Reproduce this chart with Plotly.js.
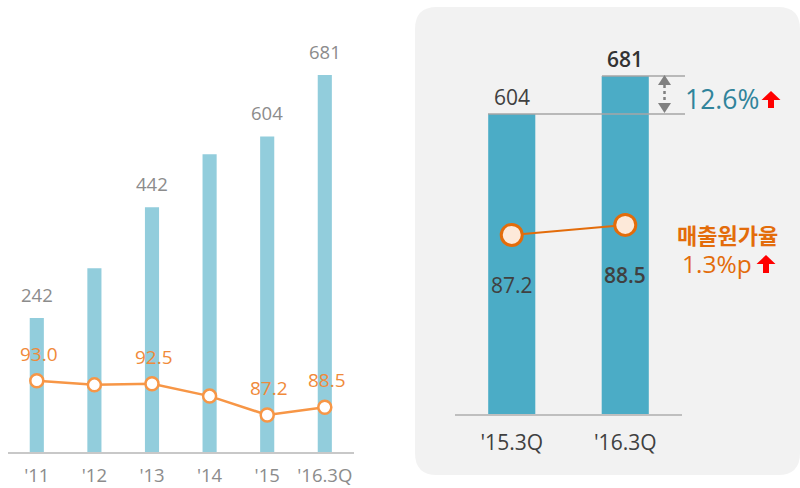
<!DOCTYPE html>
<html><head><meta charset="utf-8">
<script src="https://cdn.plot.ly/plotly-3.0.1.min.js"></script>
<style>html,body{margin:0;padding:0;background:#fff}#chart{width:800px;height:488px}</style>
</head><body><div id="chart"></div>
<script>
// ---- data ----
const yearCats = ["'11", "'12", "'13", "'14", "'15", "'16.3Q"];
const salesValues = [242, 332, 442, 538, 570, 681];
const salesLabels = ["242", "", "442", "", "604", "681"];
const costRatio = [93.0, 92.3, 92.5, 90.4, 87.2, 88.5];
const costLabels = ["93.0", "", "92.5", "", "87.2", "88.5"];
const qCats = ["'15.3Q", "'16.3Q"];
const qSales = [604, 681];
const qRatio = [87.2, 88.5];
const growthText = "12.6%";
const ratioTitle = "매출원가율";
const ratioChange = "1.3%p";

// ---- helpers ----
const W = 800, H = 488;
const px = x => x / W;
const py = y => (H - y) / H;
const FONT = "'Open Sans', 'Noto Sans', sans-serif";
const KFONT = "'Noto Sans CJK KR', 'Open Sans', sans-serif";

function upArrowPath(cx, top, bottom) {
  const hw = 9.5, headH = 9, sw = 3;
  const pts = [[cx, top], [cx + hw, top + headH], [cx + sw, top + headH], [cx + sw, bottom],
               [cx - sw, bottom], [cx - sw, top + headH], [cx - hw, top + headH]];
  return 'M' + pts.map(p => px(p[0]) + ',' + py(p[1])).join('L') + 'Z';
}
function triPath(pts) {
  return 'M' + pts.map(p => px(p[0]) + ',' + py(p[1])).join('L') + 'Z';
}
function roundRect(x0, y0, x1, y1, r) {
  const P = (x, y) => px(x) + ',' + py(y);
  return 'M' + P(x0 + r, y0) + 'L' + P(x1 - r, y0) + 'Q' + P(x1, y0) + ' ' + P(x1, y0 + r) +
    'L' + P(x1, y1 - r) + 'Q' + P(x1, y1) + ' ' + P(x1 - r, y1) +
    'L' + P(x0 + r, y1) + 'Q' + P(x0, y1) + ' ' + P(x0, y1 - r) +
    'L' + P(x0, y0 + r) + 'Q' + P(x0, y0) + ' ' + P(x0 + r, y0) + 'Z';
}

// ---- traces ----
const traces = [
  { type: 'bar', x: yearCats, y: salesValues, xaxis: 'x', yaxis: 'y',
    marker: { color: '#92CDDC' }, width: 0.245, hoverinfo: 'skip' },
  { type: 'scatter', mode: 'lines+markers', x: yearCats, y: costRatio, xaxis: 'x', yaxis: 'y2',
    line: { color: '#F79646', width: 2.5 },
    marker: { size: 13, color: '#FFFFFF', line: { color: '#F79646', width: 2.5 } }, hoverinfo: 'skip' },
  { type: 'bar', x: qCats, y: qSales, xaxis: 'x2', yaxis: 'y3',
    marker: { color: '#4BACC6' }, width: 0.415, hoverinfo: 'skip' },
  { type: 'scatter', mode: 'lines+markers', x: qCats, y: qRatio, xaxis: 'x2', yaxis: 'y4',
    line: { color: '#E36C0A', width: 2 },
    marker: { size: 21, color: '#FDE9D9', line: { color: '#E36C0A', width: 3 } }, hoverinfo: 'skip' }
];

// ---- annotations ----
const ann = [];
yearCats.forEach((c, i) => {
  if (salesLabels[i]) ann.push({ x: c, y: salesValues[i], xref: 'x', yref: 'y', text: salesLabels[i],
    showarrow: false, yanchor: 'middle', yshift: 24, font: { family: FONT, size: 18.5, color: '#8C8C8C' } });
  if (costLabels[i]) ann.push({ x: c, y: costRatio[i], xref: 'x', yref: 'y2', text: costLabels[i],
    showarrow: false, yanchor: 'middle', yshift: 27, xshift: 2, font: { family: FONT, size: 19, color: '#F08A3A' } });
});
qCats.forEach((c, i) => {
  ann.push({ x: c, y: qSales[i], xref: 'x2', yref: 'y3', text: String(qSales[i]),
    showarrow: false, yanchor: 'middle', yshift: 17,
    font: { family: FONT, size: 21, weight: i === 1 ? 600 : 400, color: i === 1 ? '#333333' : '#404040' } });
  ann.push({ x: c, y: qRatio[i], xref: 'x2', yref: 'y4', text: qRatio[i].toFixed(1),
    showarrow: false, yanchor: 'middle', yshift: -50,
    font: { family: FONT, size: 21, weight: i === 1 ? 600 : 400, color: '#404040' } });
});
ann.push({ x: px(722), y: py(99), xref: 'paper', yref: 'paper', text: growthText, showarrow: false,
  xanchor: 'center', yanchor: 'middle', font: { family: FONT, size: 26.5, color: '#31849B' } });
ann.push({ x: px(727), y: py(234), xref: 'paper', yref: 'paper', text: ratioTitle, showarrow: false,
  xanchor: 'center', yanchor: 'middle', font: { family: KFONT, size: 22, weight: 700, color: '#E36C0A' } });
ann.push({ x: px(717), y: py(263), xref: 'paper', yref: 'paper', text: ratioChange, showarrow: false,
  xanchor: 'center', yanchor: 'middle', font: { family: FONT, size: 24.5, color: '#E36C0A' } });

// ---- shapes ----
const shapes = [
  { type: 'path', xref: 'paper', yref: 'paper', path: roundRect(415, 7, 800, 475, 22),
    fillcolor: '#F2F2F2', line: { width: 0 }, layer: 'below' },
  { type: 'line', xref: 'paper', yref: 'y3', x0: px(488), x1: px(685), y0: qSales[0], y1: qSales[0],
    line: { color: '#A6A6A6', width: 1.5 } },
  { type: 'line', xref: 'paper', yref: 'y3', x0: px(602), x1: px(685), y0: qSales[1], y1: qSales[1],
    line: { color: '#A6A6A6', width: 1.5 } },
  { type: 'line', xref: 'paper', yref: 'paper', x0: px(664.5), x1: px(664.5), y0: py(85), y1: py(103),
    line: { color: '#808080', width: 2.5, dash: 'dot' } },
  { type: 'path', xref: 'paper', yref: 'paper', path: triPath([[664.5, 75], [671, 85], [658, 85]]),
    fillcolor: '#808080', line: { width: 0 } },
  { type: 'path', xref: 'paper', yref: 'paper', path: triPath([[664.5, 113], [671, 103], [658, 103]]),
    fillcolor: '#808080', line: { width: 0 } },
  { type: 'path', xref: 'paper', yref: 'paper', path: upArrowPath(771, 91, 108),
    fillcolor: '#FF0000', line: { width: 0 } },
  { type: 'path', xref: 'paper', yref: 'paper', path: upArrowPath(766, 255, 273),
    fillcolor: '#FF0000', line: { width: 0 } }
];

const layout = {
  width: W, height: H,
  margin: { l: 0, r: 0, t: 0, b: 0 },
  paper_bgcolor: '#FFFFFF', plot_bgcolor: 'rgba(0,0,0,0)',
  showlegend: false,
  font: { family: FONT },
  xaxis: { domain: [px(8), px(353.6)], range: [-0.5, 5.5], type: 'category', anchor: 'y',
    showline: true, linecolor: '#C8C8C8', linewidth: 2, showgrid: false, zeroline: false,
    ticks: 'outside', ticklen: 6, tickcolor: 'rgba(0,0,0,0)',
    tickfont: { family: FONT, size: 18.5, color: '#8C8C8C' }, fixedrange: true },
  yaxis: { domain: [py(452), py(40)], range: [0, 744.4], visible: false, anchor: 'x', fixedrange: true },
  yaxis2: { overlaying: 'y', anchor: 'x', side: 'right', range: [80.94, 150.65], visible: false, fixedrange: true },
  xaxis2: { domain: [px(455), px(682)], range: [-0.5, 1.5], type: 'category', anchor: 'y3',
    showline: true, linecolor: '#BFBFBF', linewidth: 1.5, showgrid: false, zeroline: false,
    ticks: 'outside', ticklen: 9, tickcolor: 'rgba(0,0,0,0)',
    tickfont: { family: FONT, size: 21, color: '#404040' }, fixedrange: true },
  yaxis3: { domain: [py(414), py(40)], range: [0, 753.3], visible: false, anchor: 'x2', fixedrange: true },
  yaxis4: { overlaying: 'y3', anchor: 'x2', side: 'right', range: [63.95, 112.5], visible: false, fixedrange: true },
  annotations: ann,
  shapes: shapes
};

Plotly.newPlot('chart', traces, layout, { staticPlot: true, displayModeBar: false });
</script>
</body></html>
